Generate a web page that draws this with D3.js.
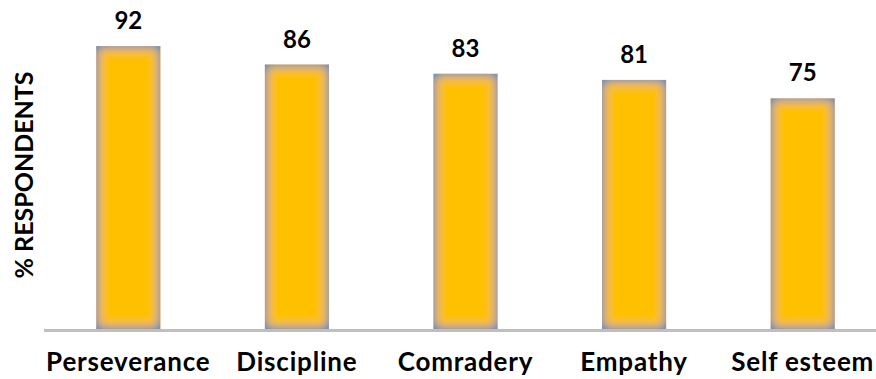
<!DOCTYPE html>
<html>
<head>
<meta charset="utf-8">
<script src="https://cdn.jsdelivr.net/npm/d3@7"></script>
<style>
  body { margin: 0; background: #fff; }
  text { font-family: Lato, "Open Sans", sans-serif; font-weight: 700; fill: #000; }
</style>
</head>
<body>
<div id="chart"></div>
<script>
// values (% respondents)
const categories = ["Perseverance", "Discipline", "Comradery", "Empathy", "Self esteem"];
const values = [92, 86, 83, 81, 75];
const yTitle = "% RESPONDENTS";

const width = 876, height = 379;
const baseY = 329;

const x = d3.scaleBand()
  .domain(categories)
  .range([44, 887])
  .paddingInner(0.62)
  .paddingOuter(0.31);

const y = d3.scaleLinear().domain([0, 100]).range([baseY, 21.5]);

const svg = d3.select("#chart")
  .append("svg")
  .attr("width", width)
  .attr("height", height);

// soft grey-blue inner edge on the bars
const defs = svg.append("defs");
const f = defs.append("filter")
  .attr("id", "inner-glow")
  .attr("x", "-40%").attr("y", "-30%")
  .attr("width", "180%").attr("height", "160%");
f.append("feFlood").attr("flood-color", "#8595ad").attr("result", "flood");
f.append("feComposite").attr("in", "flood").attr("in2", "SourceAlpha").attr("operator", "out").attr("result", "outside");
f.append("feGaussianBlur").attr("in", "outside").attr("stdDeviation", 6).attr("result", "blur");
f.append("feComposite").attr("in", "blur").attr("in2", "SourceAlpha").attr("operator", "in").attr("result", "edge");
// push the edge a bit stronger
const ct = f.append("feComponentTransfer").attr("in", "edge").attr("result", "edge2");
ct.append("feFuncA").attr("type", "linear").attr("slope", 1.6);
const merge = f.append("feMerge");
merge.append("feMergeNode").attr("in", "SourceGraphic");
merge.append("feMergeNode").attr("in", "edge2");

const data = categories.map((c, i) => ({ cat: c, value: values[i] }));

svg.append("g")
  .selectAll("rect")
  .data(data)
  .join("rect")
  .attr("x", d => x(d.cat))
  .attr("y", d => y(d.value))
  .attr("width", x.bandwidth())
  .attr("height", d => baseY - y(d.value))
  .attr("fill", "#FFC000")
  .attr("filter", "url(#inner-glow)");

// baseline
svg.append("line")
  .attr("x1", 44).attr("x2", width)
  .attr("y1", baseY + 1.5).attr("y2", baseY + 1.5)
  .attr("stroke", "#bfbfbf")
  .attr("stroke-width", 3);

// value labels
svg.append("g")
  .selectAll("text")
  .data(data)
  .join("text")
  .attr("x", d => x(d.cat) + x.bandwidth() / 2)
  .attr("y", d => y(d.value) - 17)
  .attr("text-anchor", "middle")
  .attr("font-size", 24)
  .text(d => d.value);

// category labels
svg.append("g")
  .selectAll("text")
  .data(categories)
  .join("text")
  .attr("x", d => x(d) + x.bandwidth() / 2)
  .attr("y", 371)
  .attr("text-anchor", "middle")
  .attr("font-size", 26)
  .attr("letter-spacing", 0.8)
  .text(d => d);

// y axis title
svg.append("text")
  .attr("transform", "translate(33,175) rotate(-90)")
  .attr("text-anchor", "middle")
  .attr("font-size", 25)
  .text(yTitle);
</script>
</body>
</html>
